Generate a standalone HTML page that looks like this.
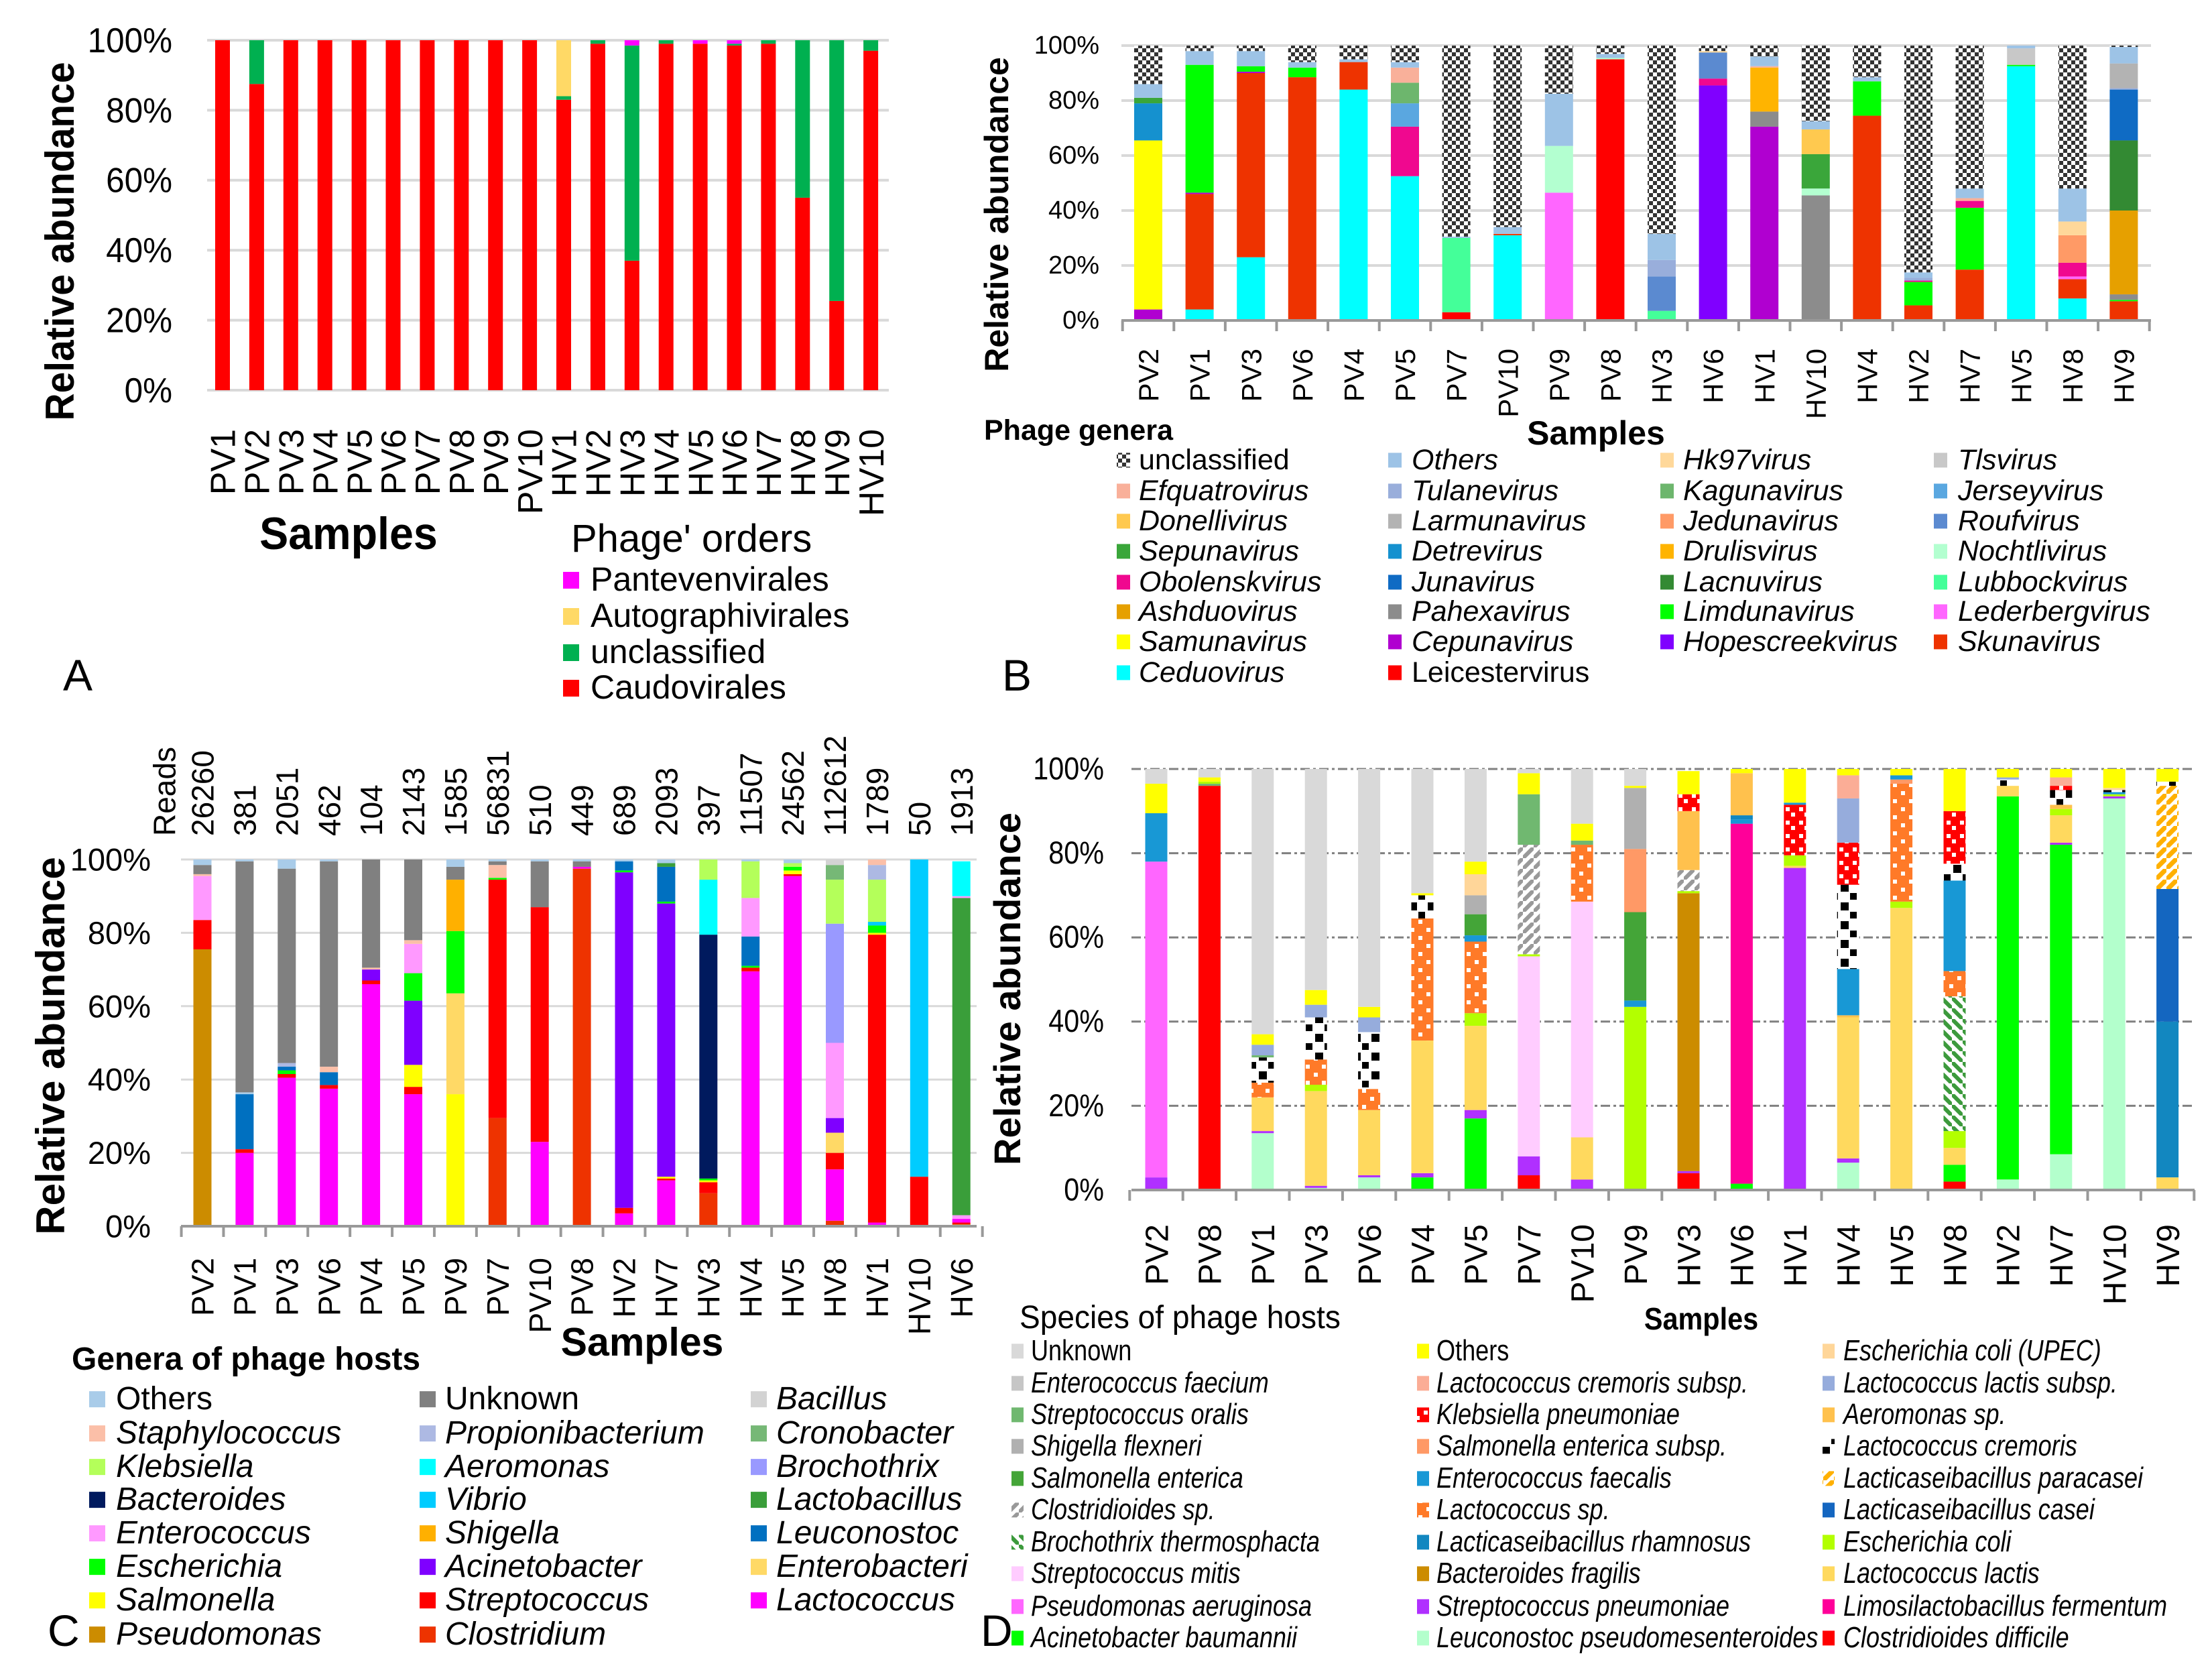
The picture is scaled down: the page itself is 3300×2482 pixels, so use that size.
<!DOCTYPE html>
<html><head><meta charset="utf-8"><style>
html,body{margin:0;padding:0;background:#fff}
svg{display:block;font-family:"Liberation Sans",Arial,sans-serif}
</style></head><body>
<svg id="fig" xmlns="http://www.w3.org/2000/svg" width="3300" height="2482" viewBox="0 0 3300 2482">
<defs>
<pattern id="pChk" width="12" height="12" patternUnits="userSpaceOnUse"><rect width="12" height="12" fill="#ffffff"/><rect width="6" height="6" fill="#333"/><rect x="6" y="6" width="6" height="6" fill="#333"/></pattern>
<pattern id="pClos" width="16" height="16" patternUnits="userSpaceOnUse"><rect width="16" height="16" fill="#fff"/><path d="M0 16 L16 0" stroke="#999" stroke-width="6"/></pattern>
<pattern id="pBroc" width="16" height="16" patternUnits="userSpaceOnUse"><rect width="16" height="16" fill="#fff"/><path d="M0 0 L16 16" stroke="#3c9a3c" stroke-width="6"/></pattern>
<pattern id="pKleb" width="20" height="20" patternUnits="userSpaceOnUse"><rect width="20" height="20" fill="#ff0000"/><rect x="4" y="4" width="6" height="6" fill="#fff"/><rect x="12" y="12" width="6" height="6" fill="#fff"/></pattern>
<pattern id="pLsp" width="24" height="24" patternUnits="userSpaceOnUse"><rect width="24" height="24" fill="#ff7a28"/><rect x="4" y="4" width="6" height="6" fill="#fff"/><rect x="16" y="16" width="6" height="6" fill="#fff"/></pattern>
<pattern id="pCrem" width="28" height="28" patternUnits="userSpaceOnUse"><rect width="28" height="28" fill="#fff"/><rect x="2" y="2" width="12" height="12" fill="#000"/><rect x="16" y="16" width="10" height="10" fill="#000"/></pattern>
<pattern id="pPara" width="16" height="16" patternUnits="userSpaceOnUse"><rect width="16" height="16" fill="#fff"/><path d="M0 16 L16 0" stroke="#ffb000" stroke-width="7"/></pattern>
</defs>
<rect width="3300" height="2482" fill="#fff"/>
</svg>
<script>
// ---------- Panel A data ----------
const aSamples=["PV1","PV2","PV3","PV4","PV5","PV6","PV7","PV8","PV9","PV10","HV1","HV2","HV3","HV4","HV5","HV6","HV7","HV8","HV9","HV10"];
const aCaudovirales=[100,87.5,100,100,100,100,100,100,100,100,83,99,37,99,99,98.5,99,55,25.5,97];
const aUnclassified=[0,12.5,0,0,0,0,0,0,0,0,1,1,61.5,1,0,0.5,1,45,74.5,3];
const aAutographi=[0,0,0,0,0,0,0,0,0,0,16,0,0,0,0,0,0,0,0,0];
const aPanteven=[0,0,0,0,0,0,0,0,0,0,0,0,1.5,0,1,1,0,0,0,0];
const yTicks=["0%","20%","40%","60%","80%","100%"];

// ---------- Panel B data ----------
const bSamples=["PV2","PV1","PV3","PV6","PV4","PV5","PV7","PV10","PV9","PV8","HV3","HV6","HV1","HV10","HV4","HV2","HV7","HV5","HV8","HV9"];
const bStacks=[
[["Cepunavirus",4],["Samunavirus",61.5],["Detrevirus",13.5],["Sepunavirus",2],["Others",5],["unclassified",14]],
[["Ceduovirus",4],["Skunavirus",42],["Cepunavirus",0.5],["Limdunavirus",46.5],["Others",5],["unclassified",2]],
[["Ceduovirus",23],["Skunavirus",67],["Cepunavirus",0.5],["Limdunavirus",2],["Others",5.5],["unclassified",2]],
[["Skunavirus",88.5],["Limdunavirus",3.5],["Others",2],["unclassified",6]],
[["Ceduovirus",84],["Skunavirus",10],["Others",1],["unclassified",5]],
[["Ceduovirus",52.5],["Obolenskvirus",18],["Jerseyvirus",8.5],["Kagunavirus",7.5],["Efquatrovirus",5.5],["Others",2],["unclassified",6]],
[["Leicestervirus",3],["Lubbockvirus",27],["Others",0.5],["unclassified",69.5]],
[["Ceduovirus",31],["Skunavirus",0.5],["Others",2.5],["unclassified",66]],
[["Lederbergvirus",46.5],["Nochtlivirus",17],["Others",19],["unclassified",17.5]],
[["Leicestervirus",95],["Nochtlivirus",0.5],["Others",1.5],["unclassified",3]],
[["Lubbockvirus",3.5],["Roufvirus",12.5],["Tulanevirus",6],["Others",9.5],["unclassified",68.5]],
[["Hopescreekvirus",85.5],["Obolenskvirus",2.5],["Roufvirus",9.5],["Hk97virus",0.5],["unclassified",2]],
[["Cepunavirus",70.5],["Pahexavirus",5.5],["Drulisvirus",16],["Efquatrovirus",0.5],["Others",3.5],["unclassified",4]],
[["Pahexavirus",45.5],["Nochtlivirus",2.5],["Sepunavirus",12.5],["Donellivirus",9],["Others",3],["unclassified",27.5]],
[["Skunavirus",74.5],["Limdunavirus",12.5],["Others",1.5],["unclassified",11.5]],
[["Skunavirus",5.5],["Limdunavirus",8.5],["Obolenskvirus",0.5],["Tulanevirus",1],["Others",2],["unclassified",82.5]],
[["Skunavirus",18.5],["Limdunavirus",22.5],["Obolenskvirus",2.5],["Efquatrovirus",1],["Others",3.5],["unclassified",52]],
[["Ceduovirus",92.5],["Limdunavirus",0.5],["Tlsvirus",6],["Others",1]],
[["Ceduovirus",8],["Skunavirus",7],["Lederbergvirus",1],["Obolenskvirus",5],["Jedunavirus",10],["Hk97virus",5],["Others",12],["unclassified",52]],
[["Skunavirus",7],["Limdunavirus",0.5],["Pahexavirus",2],["Ashduovirus",30.5],["Lacnuvirus",25.5],["Junavirus",18.5],["Tulanevirus",0.5],["Larmunavirus",9],["Others",6],["unclassified",0.5]]
];

// ---------- Panel C data ----------
const cSamples=["PV2","PV1","PV3","PV6","PV4","PV5","PV9","PV7","PV10","PV8","HV2","HV7","HV3","HV4","HV5","HV8","HV1","HV10","HV6"];
const cReads=["26260","381","2051","462","104","2143","1585","56831","510","449","689","2093","397","11507","24562","112612","1789","50","1913"];
const cStacks=[
[["Pseudomonas",75.5],["Streptococcus",8],["Enterococcus",12],["Staphylococcus",0.5],["Unknown",2.5],["Others",1.5]],
[["Lactococcus",20],["Streptococcus",1],["Leuconostoc",15],["Others",0.5],["Unknown",63],["Others",0.5]],
[["Lactococcus",40.5],["Streptococcus",1],["Escherichia",1],["Leuconostoc",1],["Propionibacterium",1],["Unknown",53],["Others",2.5]],
[["Lactococcus",37.5],["Streptococcus",1],["Leuconostoc",3.5],["Staphylococcus",1.5],["Unknown",56],["Others",0.5]],
[["Lactococcus",66],["Streptococcus",1],["Acinetobacter",3],["Staphylococcus",0.5],["Unknown",29.5]],
[["Lactococcus",36],["Streptococcus",2],["Salmonella",6],["Acinetobacter",17.5],["Escherichia",7.5],["Enterococcus",8],["Staphylococcus",1],["Unknown",22]],
[["Salmonella",36],["Enterobacteri",27.5],["Escherichia",17],["Shigella",14],["Unknown",3.5],["Others",2]],
[["Clostridium",29.5],["Streptococcus",65],["Escherichia",0.5],["Staphylococcus",3.5],["Unknown",1],["Others",0.5]],
[["Lactococcus",23],["Streptococcus",64],["Unknown",12.5],["Others",0.5]],
[["Clostridium",97.5],["Lactococcus",0.5],["Unknown",1.5],["Others",0.5]],
[["Lactococcus",3.5],["Streptococcus",1.5],["Acinetobacter",91.5],["Escherichia",0.5],["Leuconostoc",2.5],["Others",0.5]],
[["Lactococcus",12.5],["Streptococcus",0.5],["Salmonella",0.5],["Acinetobacter",74.5],["Escherichia",0.5],["Leuconostoc",9.5],["Lactobacillus",1],["Others",1]],
[["Clostridium",9],["Streptococcus",3],["Salmonella",0.5],["Escherichia",0.5],["Bacteroides",66.5],["Aeromonas",15],["Klebsiella",5.5]],
[["Lactococcus",69.5],["Streptococcus",1],["Escherichia",0.5],["Leuconostoc",8],["Enterococcus",10.5],["Klebsiella",10],["Others",0.5]],
[["Lactococcus",95.5],["Streptococcus",0.5],["Salmonella",1],["Escherichia",1],["Klebsiella",1],["Others",1]],
[["Clostridium",1.5],["Lactococcus",14],["Streptococcus",4.5],["Enterobacteri",5.5],["Acinetobacter",4],["Enterococcus",20.5],["Brochothrix",32.5],["Klebsiella",12],["Cronobacter",4],["Bacillus",1.5]],
[["Lactococcus",1],["Streptococcus",78.5],["Salmonella",0.5],["Escherichia",2],["Vibrio",1],["Klebsiella",11.5],["Propionibacterium",4],["Staphylococcus",1.5]],
[["Streptococcus",13.5],["Vibrio",86.5]],
[["Pseudomonas",0.5],["Streptococcus",0.5],["Lactococcus",1],["Enterococcus",1],["Lactobacillus",86.5],["Enterococcus",0.5],["Aeromonas",9.5]]
];

// ---------- Panel D data ----------
const dSamples=["PV2","PV8","PV1","PV3","PV6","PV4","PV5","PV7","PV10","PV9","HV3","HV6","HV1","HV4","HV5","HV8","HV2","HV7","HV10","HV9"];
const dStacks=[
[["Streptococcus pneumoniae",3],["Pseudomonas aeruginosa",75],["Enterococcus faecalis",11.5],["Others",7],["Unknown",3.5]],
[["Clostridioides difficile",96],["Streptococcus oralis",0.5],["Escherichia coli",0.5],["Others",1],["Unknown",2]],
[["Leuconostoc pseudomesenteroides",13.5],["Streptococcus pneumoniae",0.5],["Lactococcus lactis",8],["Lactococcus sp.",3.5],["Lactococcus cremoris",6],["Streptococcus oralis",0.5],["Lactococcus lactis subsp.",2.5],["Others",2.5],["Unknown",63]],
[["Leuconostoc pseudomesenteroides",0.5],["Streptococcus pneumoniae",0.5],["Lactococcus lactis",22.5],["Escherichia coli",1.5],["Lactococcus sp.",6],["Lactococcus cremoris",10],["Lactococcus lactis subsp.",3],["Others",3.5],["Unknown",52.5]],
[["Leuconostoc pseudomesenteroides",3],["Streptococcus pneumoniae",0.5],["Lactococcus lactis",15.5],["Lactococcus sp.",5],["Lactococcus cremoris",13.5],["Lactococcus lactis subsp.",3.5],["Others",2.5],["Unknown",56.5]],
[["Acinetobacter baumannii",3],["Streptococcus pneumoniae",1],["Lactococcus lactis",31.5],["Lactococcus sp.",29],["Lactococcus cremoris",5.5],["Others",0.5],["Unknown",29.5]],
[["Acinetobacter baumannii",17],["Streptococcus pneumoniae",2],["Lactococcus lactis",20],["Escherichia coli",3],["Lactococcus sp.",17],["Enterococcus faecalis",1.5],["Salmonella enterica",5],["Shigella flexneri",4.5],["Escherichia coli (UPEC)",5],["Others",3],["Unknown",22]],
[["Clostridioides difficile",3.5],["Streptococcus pneumoniae",4.5],["Streptococcus mitis",47.5],["Escherichia coli",0.5],["Clostridioides sp.",26],["Streptococcus oralis",12],["Others",5],["Unknown",1]],
[["Streptococcus pneumoniae",2.5],["Lactococcus lactis",10],["Streptococcus mitis",56],["Lactococcus sp.",13.5],["Streptococcus oralis",1],["Others",4],["Unknown",13]],
[["Escherichia coli",43.5],["Enterococcus faecalis",1.5],["Salmonella enterica",21],["Salmonella enterica subsp.",15],["Shigella flexneri",14.5],["Others",0.5],["Unknown",4]],
[["Clostridioides difficile",4],["Streptococcus pneumoniae",0.5],["Bacteroides fragilis",66],["Escherichia coli",0.5],["Clostridioides sp.",5],["Aeromonas sp.",14],["Klebsiella pneumoniae",4],["Others",5.5]],
[["Acinetobacter baumannii",1.5],["Limosilactobacillus fermentum",85.5],["Enterococcus faecalis",1],["Lacticaseibacillus rhamnosus",1],["Aeromonas sp.",10],["Others",1]],
[["Streptococcus pneumoniae",76.5],["Lactococcus lactis",0.5],["Escherichia coli",2.5],["Klebsiella pneumoniae",12],["Enterococcus faecalis",0.5],["Others",8]],
[["Leuconostoc pseudomesenteroides",6.5],["Streptococcus pneumoniae",1],["Lactococcus lactis",33.5],["Aeromonas sp.",0.5],["Enterococcus faecalis",11],["Lactococcus cremoris",20],["Klebsiella pneumoniae",10],["Lactococcus lactis subsp.",10.5],["Lactococcus cremoris subsp.",5.5],["Others",1.5]],
[["Lactococcus lactis",67],["Escherichia coli",1.5],["Lactococcus sp.",28],["Salmonella enterica subsp.",1],["Enterococcus faecalis",1],["Others",1.5]],
[["Clostridioides difficile",2],["Acinetobacter baumannii",4],["Lactococcus lactis",4],["Escherichia coli",4],["Brochothrix thermosphacta",32],["Lactococcus sp.",6],["Enterococcus faecalis",21.5],["Lactococcus cremoris",4],["Klebsiella pneumoniae",12.5],["Others",10]],
[["Leuconostoc pseudomesenteroides",2.5],["Acinetobacter baumannii",91],["Lactococcus lactis",2.5],["Lactococcus cremoris",1.5],["Lactococcus lactis subsp.",0.5],["Others",2]],
[["Leuconostoc pseudomesenteroides",8.5],["Acinetobacter baumannii",73.5],["Streptococcus pneumoniae",0.5],["Lactococcus lactis",6.5],["Escherichia coli",1.5],["Aeromonas sp.",1],["Lactococcus cremoris",3.5],["Klebsiella pneumoniae",1],["Lactococcus cremoris subsp.",2],["Others",2]],
[["Leuconostoc pseudomesenteroides",93],["Streptococcus pneumoniae",0.5],["Escherichia coli",0.5],["Enterococcus faecalis",0.5],["Lactococcus cremoris",0.5],["Escherichia coli (UPEC)",0.5],["Others",4.5]],
[["Lactococcus lactis",3],["Lacticaseibacillus rhamnosus",37],["Lacticaseibacillus casei",31.5],["Lacticaseibacillus paracasei",24.5],["Lactococcus cremoris",1],["Others",3]]
];

// ---------- styles (colors) ----------
const colA={"Caudovirales":"#ff0000","unclassified":"#00b050","Autographivirales":"#ffd966","Pantevenvirales":"#ff00ff"};
const colB={"unclassified":"url(#pChk)","Efquatrovirus":"#f9b09a","Donellivirus":"#ffc94f","Sepunavirus":"#3aa63a","Obolenskvirus":"#f0088f","Ashduovirus":"#e6a000","Samunavirus":"#ffff00","Ceduovirus":"#00ffff","Others":"#9dc3e6","Tulanevirus":"#99aedb","Larmunavirus":"#b3b3b3","Detrevirus":"#1591cf","Junavirus":"#0f6bc4","Pahexavirus":"#8c8c8c","Cepunavirus":"#b000d0","Leicestervirus":"#ff0000","Hk97virus":"#ffd89a","Kagunavirus":"#6db66d","Jedunavirus":"#ff9a66","Drulisvirus":"#ffb400","Lacnuvirus":"#338a33","Limdunavirus":"#00ff00","Hopescreekvirus":"#8000ff","Tlsvirus":"#c8c8c8","Jerseyvirus":"#5aa7e0","Roufvirus":"#5b8ad0","Nochtlivirus":"#b3ffd0","Lubbockvirus":"#44ff99","Lederbergvirus":"#ff66ff","Skunavirus":"#ee3300"};
const colC={"Others":"#a9cce9","Staphylococcus":"#fbbfa8","Klebsiella":"#b4ff5a","Bacteroides":"#001a5e","Enterococcus":"#ff99ff","Escherichia":"#00ff00","Salmonella":"#ffff00","Pseudomonas":"#cc8c00","Unknown":"#808080","Propionibacterium":"#adb9e3","Aeromonas":"#00ffff","Vibrio":"#00ccff","Shigella":"#ffb000","Acinetobacter":"#7f00ff","Streptococcus":"#ff0000","Clostridium":"#ee3300","Bacillus":"#d3d3d3","Cronobacter":"#76b876","Brochothrix":"#9999ff","Lactobacillus":"#3a9e3a","Leuconostoc":"#0070c0","Enterobacteri":"#ffd966","Lactococcus":"#ff00ff"};
const colD={"Unknown":"#d9d9d9","Enterococcus faecium":"#c6c6c6","Streptococcus oralis":"#70b870","Shigella flexneri":"#b0b0b0","Salmonella enterica":"#44a538","Clostridioides sp.":"url(#pClos)","Brochothrix thermosphacta":"url(#pBroc)","Streptococcus mitis":"#ffccff","Pseudomonas aeruginosa":"#ff66ff","Acinetobacter baumannii":"#00ff00","Others":"#ffff00","Lactococcus cremoris subsp.":"#fbad96","Klebsiella pneumoniae":"url(#pKleb)","Salmonella enterica subsp.":"#ff9966","Enterococcus faecalis":"#1898d5","Lactococcus sp.":"url(#pLsp)","Lacticaseibacillus rhamnosus":"#1287c0","Bacteroides fragilis":"#cc8c00","Streptococcus pneumoniae":"#b030ff","Leuconostoc pseudomesenteroides":"#b3ffcc","Escherichia coli (UPEC)":"#ffd699","Lactococcus lactis subsp.":"#96acdc","Aeromonas sp.":"#ffc14d","Lactococcus cremoris":"url(#pCrem)","Lacticaseibacillus paracasei":"url(#pPara)","Lacticaseibacillus casei":"#1466c0","Escherichia coli":"#b3ff00","Lactococcus lactis":"#ffd95e","Limosilactobacillus fermentum":"#ff0099","Clostridioides difficile":"#ff0000"};

const NS="http://www.w3.org/2000/svg";
const svg=document.getElementById('fig');
function mk(tag,parent){const e=document.createElementNS(NS,tag);(parent||svg).appendChild(e);return e;}
function grp(name){const g=mk('g');return g;}
function txt(p,x,y,s,size,o,name){
  o=o||{};const t=mk('text',p);
  
  
  t.setAttribute('transform',`translate(${x},${y}) rotate(${o.rot||0}) scale(${o.sx||1},1)`);
  t.setAttribute('font-size',size);
  if(o.anchor)t.setAttribute('text-anchor',o.anchor);
  if(o.bold)t.setAttribute('font-weight','bold');
  if(o.italic)t.setAttribute('font-style','italic');
  if(o.mid)t.setAttribute('dominant-baseline','central');
  t.setAttribute('fill','#000');
  t.textContent=s;return t;
}
function line(p,x1,y1,x2,y2,c,w,dash){const l=mk('line',p);l.setAttribute('x1',x1);l.setAttribute('y1',y1);l.setAttribute('x2',x2);l.setAttribute('y2',y2);l.setAttribute('stroke',c);l.setAttribute('stroke-width',w);if(dash)l.setAttribute('stroke-dasharray',dash);return l;}

function panel(cfg){
  const g=grp(cfg.name);
  const ys=v=>cfg.y0-(cfg.y0-cfg.y100)*v/100;
  const xs=i=>cfg.x0+cfg.step*i;
  const grid=grp(cfg.name+'-gridlines');g.appendChild(grid);
  yTicks.forEach((lab,k)=>{const v=k*20;
    if(!(cfg.axisLine && v===0)){const gl=line(grid,cfg.ax1,ys(v),cfg.ax2,ys(v),cfg.gridC,cfg.gridW,cfg.dash);
      }
    txt(g,cfg.tickX,ys(v),lab,cfg.tickF,{anchor:'end',mid:true,sx:cfg.tickSx},'y-tick-'+v);
  });
  const bars=grp(cfg.name+'-bars');g.appendChild(bars);
  cfg.stacks.forEach((st,i)=>{let cum=0;
    st.forEach(([k,v])=>{const r=mk('rect',bars);
      
      
      r.setAttribute('x',xs(i)-cfg.bw/2);r.setAttribute('width',cfg.bw);
      r.setAttribute('y',ys(cum+v));r.setAttribute('height',Math.max(0,ys(cum)-ys(cum+v)));
      r.setAttribute('fill',cfg.colors[k]);cum+=v;});
  });
  if(cfg.axisLine){const al=line(g,cfg.ax1,ys(0),cfg.ax2,ys(0),'#999',4);
    
    for(let i=0;i<=cfg.samples.length;i++){const tk=line(g,xs(i)-cfg.step/2,ys(0),xs(i)-cfg.step/2,ys(0)+16,'#999',4);
      }}
  cfg.samples.forEach((s,i)=>txt(g,xs(i)+cfg.labF*0.36,cfg.labY,s,cfg.labF,{anchor:'end',rot:-90},'x-label-'+s));
  return {g,xs,ys};
}
function legend(p,items,cols,rows,colors,F,sq,sx,name){
  const g=grp(name);p.appendChild(g);
  items.forEach((it,n)=>{const c=Math.floor(n/rows.length),r=n%rows.length;
    const [lab,ital]=it;const rc=mk('rect',g);
    
    
    rc.setAttribute('x',cols[c][0]);rc.setAttribute('y',rows[r]-sq[1]-F*0.06);rc.setAttribute('width',sq[0]);rc.setAttribute('height',sq[1]);
    rc.setAttribute('fill',colors[lab]);
    txt(g,cols[c][1],rows[r],lab,F,{italic:ital,sx:sx},'legend-entry-'+lab.replace(/[^A-Za-z0-9]+/g,'-').toLowerCase());
  });
}

// ---------- Panel A ----------
const aStacks=aSamples.map((s,i)=>[["Caudovirales",aCaudovirales[i]],["unclassified",aUnclassified[i]],["Autographivirales",aAutographi[i]],["Pantevenvirales",aPanteven[i]]]);
const A=panel({name:'panel-a',samples:aSamples,stacks:aStacks,colors:colA,y0:582,y100:60,x0:332,step:50.9,bw:22,ax1:309,ax2:1326,gridC:'#d9d9d9',gridW:4,tickX:257,tickF:52,tickSx:0.95,labF:52,labY:640,axisLine:false});
txt(A.g,110,360,'Relative abundance',60,{bold:true,rot:-90,anchor:'middle',sx:0.95},'y-axis-title');
txt(A.g,520,819,'Samples',68,{bold:true,anchor:'middle',sx:0.95},'x-axis-title');
txt(A.g,852,823,"Phage' orders",58,{},'legend-title');
legend(A.g,[["Pantevenvirales",false],["Autographivirales",false],["unclassified",false],["Caudovirales",false]],[[840,881]],[881,935,989,1042],colA,50,[24,25],1,'legend-a');
txt(A.g,94,1030,'A',66,{},'panel-label-a');

// ---------- Panel B ----------
const B=panel({name:'panel-b',samples:bSamples,stacks:bStacks,colors:colB,y0:478,y100:68,x0:1713,step:76.6,bw:42,ax1:1673,ax2:3209,gridC:'#d9d9d9',gridW:4,tickX:1640,tickF:38,labF:42,labY:520,axisLine:true});
txt(B.g,1504,320,'Relative abundance',50,{bold:true,rot:-90,anchor:'middle'},'y-axis-title');
txt(B.g,2381,663,'Samples',50,{bold:true,anchor:'middle'},'x-axis-title');
txt(B.g,1468,656,'Phage genera',43,{bold:true},'legend-title');
const bLeg=["unclassified","Efquatrovirus","Donellivirus","Sepunavirus","Obolenskvirus","Ashduovirus","Samunavirus","Ceduovirus","Others","Tulanevirus","Larmunavirus","Detrevirus","Junavirus","Pahexavirus","Cepunavirus","Leicestervirus","Hk97virus","Kagunavirus","Jedunavirus","Drulisvirus","Lacnuvirus","Limdunavirus","Hopescreekvirus","Tlsvirus","Jerseyvirus","Roufvirus","Nochtlivirus","Lubbockvirus","Lederbergvirus","Skunavirus"];
const bItems=bLeg.map(l=>[l,!(l==="unclassified"||l==="Leicestervirus")]);
// col3 has 7 rows: place manually
legend(B.g,bItems.slice(0,16),[[1666,1699],[2071,2106]],[700,746,791,836,882,926,971,1017],colB,43,[20,22],1,'legend-b-left');
legend(B.g,bItems.slice(16),[[2477,2511],[2885,2921]],[700,746,791,836,882,926,971],colB,43,[20,22],1,'legend-b-right');
txt(B.g,1495,1030,'B',66,{},'panel-label-b');

// ---------- Panel C ----------
const C=panel({name:'panel-c',samples:cSamples,stacks:cStacks,colors:colC,y0:1829,y100:1282,x0:302,step:62.9,bw:27,ax1:270,ax2:1457,gridC:'#d9d9d9',gridW:3,tickX:225,tickF:47,labF:46,labY:1876,axisLine:true});
cReads.forEach((r,i)=>txt(C.g,C.xs(i)+46*0.36,1247,r,46,{rot:-90},'reads-'+cSamples[i]));
txt(C.g,245+46*0.36,1247,'Reads',46,{rot:-90},'reads-label');
txt(C.g,96,1560,'Relative abundance',60,{bold:true,rot:-90,anchor:'middle'},'y-axis-title');
txt(C.g,958,2022,'Samples',59,{bold:true,anchor:'middle'},'x-axis-title');
txt(C.g,107,2043,'Genera of phage hosts',48,{bold:true},'legend-title');
const cLeg=["Others","Staphylococcus","Klebsiella","Bacteroides","Enterococcus","Escherichia","Salmonella","Pseudomonas","Unknown","Propionibacterium","Aeromonas","Vibrio","Shigella","Acinetobacter","Streptococcus","Clostridium","Bacillus","Cronobacter","Brochothrix","Lactobacillus","Leuconostoc","Enterobacteri","Lactococcus"];
legend(C.g,cLeg.map(l=>[l,!(l==="Others"||l==="Unknown")]),[[133,173],[626,664],[1120,1158]],[2102,2153,2203,2252,2302,2352,2402,2453],colC,48,[24,24],1,'legend-c');
txt(C.g,71,2455,'C',66,{},'panel-label-c');

// ---------- Panel D ----------
const D=panel({name:'panel-d',samples:dSamples,stacks:dStacks,colors:colD,y0:1775,y100:1147,x0:1725,step:79.4,bw:33,ax1:1688,ax2:3274,gridC:'#808080',gridW:3,dash:'14,5,4,5',tickX:1647,tickF:47,tickSx:0.88,labF:48,labY:1826,axisLine:true});
txt(D.g,1522,1475,'Relative abundance',56,{bold:true,rot:-90,anchor:'middle'},'y-axis-title');
txt(D.g,2538,1983,'Samples',46,{bold:true,anchor:'middle',sx:0.9},'x-axis-title');
txt(D.g,1521,1981,'Species of phage hosts',48,{sx:0.96},'legend-title');
const dLeg=["Unknown","Enterococcus faecium","Streptococcus oralis","Shigella flexneri","Salmonella enterica","Clostridioides sp.","Brochothrix thermosphacta","Streptococcus mitis","Pseudomonas aeruginosa","Acinetobacter baumannii","Others","Lactococcus cremoris subsp.","Klebsiella pneumoniae","Salmonella enterica subsp.","Enterococcus faecalis","Lactococcus sp.","Lacticaseibacillus rhamnosus","Bacteroides fragilis","Streptococcus pneumoniae","Leuconostoc pseudomesenteroides","Escherichia coli (UPEC)","Lactococcus lactis subsp.","Aeromonas sp.","Lactococcus cremoris","Lacticaseibacillus paracasei","Lacticaseibacillus casei","Escherichia coli","Lactococcus lactis","Limosilactobacillus fermentum","Clostridioides difficile"];
legend(D.g,dLeg.map(l=>[l,!(l==="Others"||l==="Unknown")]),[[1509,1538],[2114,2143],[2719,2750]],[2029,2077,2124,2171,2219,2266,2314,2361,2410,2457],colD,44,[18,22],0.82,'legend-d');
txt(D.g,1463,2455,'D',66,{},'panel-label-d');
</script>
</body></html>
